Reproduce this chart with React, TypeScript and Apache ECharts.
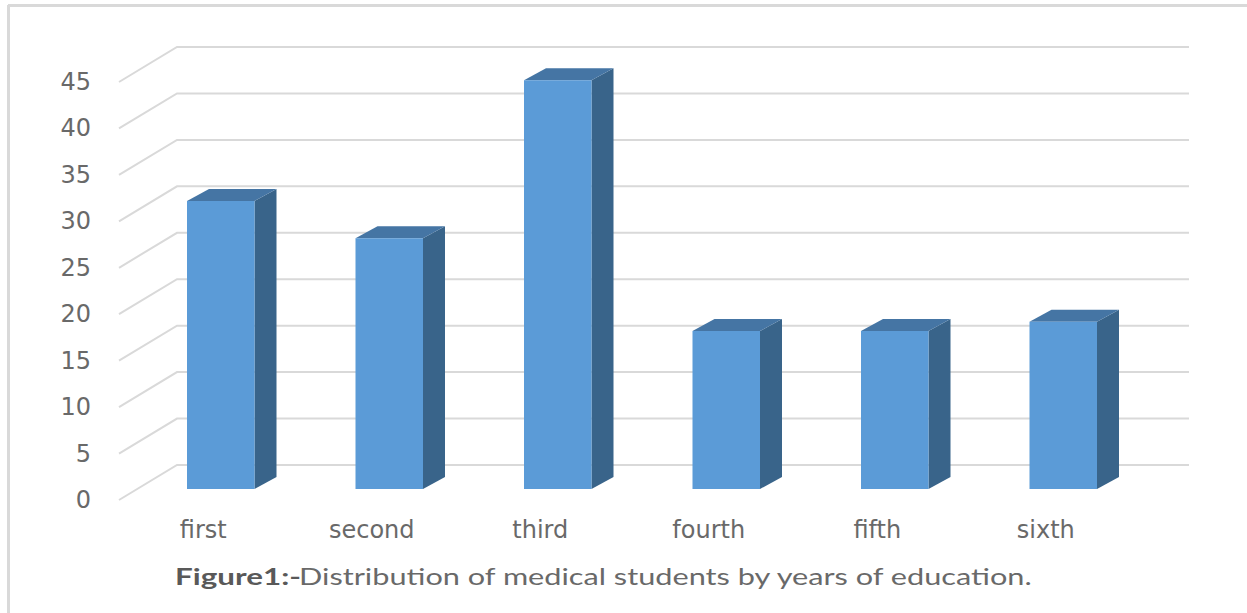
import React, { useEffect, useRef } from "react";
import * as echarts from "echarts";

const categories = ["first", "second", "third", "fourth", "fifth", "sixth"];
const students = [31, 27, 44, 17, 17, 18];
const gridValues = [0, 5, 10, 15, 20, 25, 30, 35, 40, 45];
const captionBold = "Figure1:-";
const captionRest = "Distribution of medical students by years of education.";

const BAR_W = 67.5, BAR_X = 17.5, BAR_Y = -11, DX = 22, DY = -12, WALL_X = 58, WALL_Y = -35;
const FONT = "DejaVu Sans";

export default function App() {
  const ref = useRef<HTMLDivElement>(null);
  useEffect(() => {
    document.body.style.margin = "0";
    const chart = echarts.init(ref.current!, null, { renderer: "svg" });
    chart.setOption({
      animation: false,
      backgroundColor: "#ffffff",
      grid: { left: 119, right: 117, top: 82, bottom: 113 },
      xAxis: {
        type: "category",
        data: categories,
        axisLine: { show: false },
        axisTick: { show: false },
        axisLabel: { color: "#696969", fontFamily: FONT, fontSize: 24, margin: 18 },
      },
      yAxis: {
        type: "value",
        min: 0,
        max: 45,
        interval: 5,
        axisLine: { show: false },
        axisTick: { show: false },
        splitLine: { show: false },
        axisLabel: { color: "#696969", fontFamily: FONT, fontSize: 24, margin: 28 },
      },
      graphic: [
        { type: "line", silent: true, shape: { x1: 8, y1: 5.5, x2: 1247, y2: 5.5 }, style: { stroke: "#d9d9d9", lineWidth: 3 } },
        { type: "line", silent: true, shape: { x1: 8.5, y1: 5, x2: 8.5, y2: 613 }, style: { stroke: "#d9d9d9", lineWidth: 3 } },
        {
          type: "text", silent: true, x: 175, y: 565, scaleX: 1.365,
          style: { text: captionBold, fill: "#595959", font: "bold 23px Lato" },
        },
        {
          type: "text", silent: true, x: 299, y: 565, scaleX: 1.335,
          style: { text: captionRest, fill: "#696969", font: "23px Lato" },
        },
      ],
      series: [
        {
          type: "custom",
          silent: true,
          clip: false,
          z: 1,
          data: gridValues.map((v) => [0, v]),
          encode: { x: 0, y: 1 },
          renderItem: (params: any, api: any) => {
            const y = api.coord([0, api.value(1)])[1];
            const g = params.coordSys;
            return {
              type: "polyline",
              shape: {
                points: [
                  [g.x, y],
                  [g.x + WALL_X, y + WALL_Y],
                  [g.x + WALL_X + g.width + 1, y + WALL_Y],
                ],
              },
              style: { stroke: "#d9d9d9", lineWidth: 2, fill: "none" },
            };
          },
        },
        {
          type: "custom",
          silent: true,
          clip: false,
          z: 2,
          data: students.map((v, i) => [i, v]),
          encode: { x: 0, y: 1 },
          renderItem: (_p: any, api: any) => {
            const [cx, ty] = api.coord([api.value(0), api.value(1)]);
            const by = api.coord([api.value(0), 0])[1];
            const l = cx + BAR_X - BAR_W / 2;
            const r = l + BAR_W;
            const t = ty + BAR_Y;
            const b = by + BAR_Y;
            return {
              type: "group",
              children: [
                { type: "polygon", shape: { points: [[r, t], [r + DX, t + DY], [r + DX, b + DY], [r, b]] }, style: { fill: "#39648a" } },
                { type: "polygon", shape: { points: [[l, t], [l + DX, t + DY], [r + DX, t + DY], [r, t]] }, style: { fill: "#4575a4" } },
                { type: "rect", shape: { x: l, y: t, width: BAR_W, height: b - t }, style: { fill: "#5b9bd7" } },
              ],
            };
          },
        },
      ],
    });
    return () => chart.dispose();
  }, []);
  return <div ref={ref} style={{ width: 1247, height: 613 }} />;
}
